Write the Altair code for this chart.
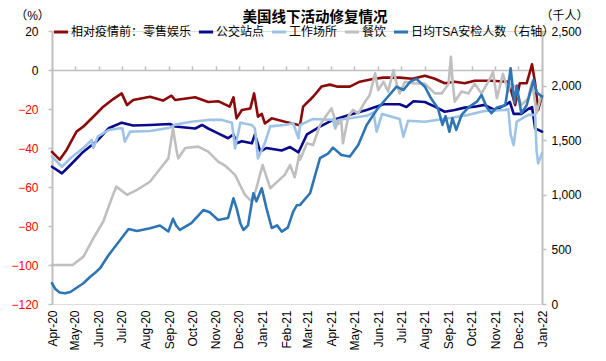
import altair as alt
import pandas as pd

FONT = "Liberation Sans, Arial, Noto Sans CJK SC"

names = ["相对疫情前：零售娱乐", "公交站点", "工作场所", "餐饮", "日均TSA安检人数（右轴）"]
colors = ["#8B0A0A", "#0A0A8C", "#9DC3E6", "#BFBFBF", "#2E75B6"]

dates_r = ["2020-04-01","2020-04-11","2020-04-20","2020-05-03","2020-05-12","2020-05-25","2020-06-07","2020-06-20","2020-07-01","2020-07-08","2020-07-16","2020-08-07","2020-08-24","2020-09-04","2020-09-09","2020-10-05","2020-10-22","2020-11-04","2020-11-19","2020-11-24","2020-11-28","2020-12-05","2020-12-16","2020-12-21","2020-12-26","2020-12-31","2021-01-04","2021-01-13","2021-01-30","2021-02-17","2021-02-19","2021-02-23","2021-03-08","2021-03-19","2021-03-30","2021-04-08","2021-04-25","2021-05-08","2021-05-25","2021-06-08","2021-06-29","2021-07-16","2021-08-01","2021-08-14","2021-08-27","2021-09-09","2021-09-22","2021-10-05","2021-10-27","2021-11-18","2021-11-22","2021-11-27","2021-12-03","2021-12-12","2021-12-19","2021-12-23","2021-12-27","2022-01-01"]
vals_r = [-42,-46,-41,-31.6,-29,-24,-18.8,-14.9,-12,-18,-15.4,-13.7,-15.7,-13.2,-15.4,-14,-16.4,-16,-18.8,-14,-24.8,-20.5,-19.7,-12,-23.9,-22.5,-27.4,-24.8,-26.5,-28.2,-28,-18.8,-13.7,-8.5,-7.5,-8.5,-8.5,-6,-4.6,-3.9,-3.9,-4.5,-2.9,-4.5,-6.8,-6,-6.8,-5.5,-5.5,-6,-11,-18,-6.8,-6.8,2.9,-6.8,-20.5,-13]

dates_n = ["2020-04-01","2020-04-14","2020-04-25","2020-05-12","2020-05-29","2020-06-14","2020-07-01","2020-07-16","2020-08-07","2020-09-02","2020-09-09","2020-10-05","2020-10-14","2020-10-22","2020-11-04","2020-11-17","2020-11-24","2020-11-28","2020-12-05","2020-12-18","2020-12-22","2020-12-29","2021-01-06","2021-01-26","2021-02-06","2021-02-17","2021-02-28","2021-03-17","2021-04-03","2021-04-25","2021-05-17","2021-06-08","2021-06-29","2021-07-08","2021-07-17","2021-08-01","2021-08-14","2021-08-27","2021-09-09","2021-09-22","2021-10-05","2021-10-18","2021-10-31","2021-11-14","2021-11-20","2021-11-25","2021-12-05","2021-12-14","2021-12-19","2021-12-23","2022-01-01"]
vals_n = [-49.6,-53,-48.7,-41.9,-36.7,-29.9,-27,-28.5,-28.2,-27.7,-29,-30,-28.2,-30,-32.5,-35,-33,-37.6,-36.5,-37.6,-33,-41.9,-40,-41.3,-39.5,-42.2,-33,-29,-25.6,-23,-20.5,-17.6,-17.6,-19,-16,-16.4,-18.8,-21.4,-20.5,-19.3,-18.8,-17.9,-20.5,-18,-16.4,-22.5,-22.5,-20,-19,-29.9,-31.6]

dates_w = ["2020-04-01","2020-04-14","2020-04-25","2020-05-12","2020-05-23","2020-05-25","2020-05-31","2020-06-14","2020-06-29","2020-07-02","2020-07-05","2020-07-12","2020-08-07","2020-09-02","2020-09-09","2020-09-30","2020-10-22","2020-11-09","2020-11-22","2020-11-26","2020-12-03","2020-12-18","2020-12-22","2020-12-26","2021-01-04","2021-01-11","2021-01-30","2021-02-10","2021-02-17","2021-02-19","2021-03-08","2021-04-03","2021-04-06","2021-04-10","2021-05-17","2021-05-26","2021-05-30","2021-06-06","2021-06-29","2021-07-04","2021-07-10","2021-08-01","2021-09-05","2021-09-27","2021-10-18","2021-11-14","2021-11-18","2021-11-21","2021-11-25","2021-11-29","2021-12-14","2021-12-23","2021-12-25","2021-12-27","2022-01-01"]
vals_w = [-44.4,-49.6,-45.3,-40,-35.9,-40,-34,-30.8,-29.9,-30,-36.8,-31.6,-31.3,-29.6,-28,-26.5,-25.6,-25.6,-27,-40.2,-27,-28.2,-30,-45.3,-37.5,-28.9,-28.2,-27.3,-35,-28.2,-25.1,-25.6,-30,-25.6,-23.5,-21.8,-31.6,-22.6,-25.1,-34.2,-26,-26.5,-24.5,-23,-21,-20.5,-20,-33,-38.5,-26.5,-23,-23,-41.9,-47.9,-42.7]

dates_g = ["2020-04-01","2020-04-28","2020-05-12","2020-05-25","2020-06-07","2020-06-18","2020-06-24","2020-07-08","2020-07-21","2020-08-07","2020-08-24","2020-08-31","2020-09-06","2020-09-11","2020-09-13","2020-09-22","2020-10-09","2020-10-22","2020-11-04","2020-11-13","2020-11-26","2020-12-09","2020-12-18","2020-12-24","2021-01-01","2021-01-11","2021-01-30","2021-02-06","2021-02-12","2021-02-18","2021-02-19","2021-02-28","2021-03-08","2021-03-17","2021-03-26","2021-04-01","2021-04-08","2021-04-14","2021-04-16","2021-04-23","2021-04-29","2021-05-06","2021-05-15","2021-05-21","2021-05-28","2021-06-01","2021-06-08","2021-06-14","2021-06-21","2021-06-25","2021-06-29","2021-07-06","2021-07-17","2021-08-01","2021-08-14","2021-08-23","2021-09-01","2021-09-04","2021-09-06","2021-09-09","2021-09-18","2021-09-27","2021-10-05","2021-10-14","2021-10-23","2021-10-29","2021-11-03","2021-11-11","2021-11-18","2021-11-21","2021-11-27","2021-12-05","2021-12-14","2021-12-19","2021-12-25","2021-12-29","2022-01-01"]
vals_g = [-100,-100,-95.7,-86.3,-77.7,-65.8,-59.8,-64,-61.5,-57.3,-48.7,-45.3,-30,-42,-45.3,-40,-39.3,-41.9,-47,-49,-53.8,-64,-67.5,-60.6,-48.7,-60.6,-53.8,-48.7,-55,-43.6,-46,-37.6,-38.5,-28.2,-23,-19.7,-28.2,-26.5,-37.6,-23.9,-20.5,-22.2,-16.2,-12.8,-1.7,-10.3,-6,-11.1,0,-6.8,-12,-6,-6.8,-7,-12,-12,-7,6.8,-5,-16.2,-11,-12,-7,-12,-6,-0.9,-14.4,-2,-11,-7,-8.5,-18,-14.4,-6,-22,-16,-12]

dates_t = ["2020-04-01","2020-04-05","2020-04-11","2020-04-18","2020-04-25","2020-05-12","2020-05-21","2020-05-29","2020-06-03","2020-06-14","2020-06-29","2020-07-10","2020-07-21","2020-08-07","2020-08-20","2020-08-31","2020-09-06","2020-09-10","2020-09-15","2020-09-30","2020-10-16","2020-10-24","2020-11-04","2020-11-17","2020-11-24","2020-11-28","2020-12-03","2020-12-07","2020-12-13","2020-12-20","2020-12-24","2020-12-31","2021-01-06","2021-01-13","2021-01-20","2021-01-26","2021-02-03","2021-02-10","2021-02-15","2021-02-19","2021-03-04","2021-03-17","2021-03-28","2021-04-03","2021-04-14","2021-04-25","2021-05-06","2021-05-17","2021-05-30","2021-06-12","2021-06-25","2021-07-04","2021-07-13","2021-07-21","2021-08-01","2021-08-09","2021-08-18","2021-08-24","2021-08-28","2021-09-02","2021-09-06","2021-09-11","2021-09-18","2021-09-27","2021-10-08","2021-10-14","2021-10-21","2021-10-27","2021-11-03","2021-11-14","2021-11-18","2021-11-21","2021-11-26","2021-11-29","2021-12-05","2021-12-12","2021-12-21","2021-12-25","2022-01-01"]
vals_t = [190,140,105,98,110,190,250,296,330,449,586,687,668,693,719,664,780,720,678,740,861,840,769,788,968,880,740,678,720,1014,940,1060,880,696,720,663,700,846,905,907,1014,1335,1380,1432,1365,1350,1456,1640,1777,1884,1990,1960,2036,2062,1990,1884,1793,1640,1720,1578,1700,1594,1731,1800,1853,1914,1800,1747,1800,1820,2000,2159,1838,2000,1747,1820,2052,1940,1899]

left_ticks = [-120, -100, -80, -60, -40, -20, 0, 20]
right_ticks = [0, 500, 1000, 1500, 2000, 2500]

frames = []
for nm, d, v in zip(names, [dates_r, dates_n, dates_w, dates_g, dates_t],
                    [vals_r, vals_n, vals_w, vals_g, vals_t]):
    frames.append(pd.DataFrame({"date": d, "value": v, "series": nm}))
df = pd.concat(frames, ignore_index=True)

x_scale = alt.Scale(type="utc", domain=[alt.DateTime(year=2020, month=4, date=1, utc=True),
                                        alt.DateTime(year=2022, month=1, date=1, utc=True)])

x_bottom = alt.X("date:T", scale=x_scale, title=None,
                 axis=alt.Axis(orient="bottom", format="%b-%y", labelAngle=-90,
                               tickCount={"interval": "month", "step": 1},
                               domain=False, ticks=False, grid=False,
                               labelFontSize=12, labelFont=FONT, labelColor="black",
                               labelPadding=6, labelOverlap=False, labelBound=False,
                               labelFlush=False))
x_top = alt.X("date:T", scale=x_scale, title=None,
              axis=alt.Axis(orient="top", offset=-39, labels=False, grid=False,
                            tickCount={"interval": "month", "step": 1},
                            domain=True, domainColor="#BFBFBF", domainWidth=1.5,
                            ticks=True, tickColor="#BFBFBF", tickSize=4, tickWidth=1.5))

y_left = alt.Y("value:Q", scale=alt.Scale(domain=[-120, 20], nice=False, zero=False),
               axis=alt.Axis(orient="left", values=left_ticks, format=".0f", grid=False,
                             title="（%）", titleAngle=0, titleX=-20, titleY=-16,
                             titleAlign="center", titleBaseline="middle",
                             titleFontWeight="normal", titleFontSize=12, titleFont=FONT,
                             titleColor="black",
                             labelColor=alt.condition("datum.value < 0", alt.value("#FF0000"), alt.value("black")),
                             labelFontSize=12, labelFont=FONT, labelPadding=10,
                             domainColor="#BFBFBF", domainWidth=2,
                             tickColor="#BFBFBF", tickSize=4, tickWidth=1.5))
y_right = alt.Y("value:Q", scale=alt.Scale(domain=[0, 2500], nice=False),
                axis=alt.Axis(orient="right", values=right_ticks, format=",.0f", grid=False,
                              title="（千人）", titleAngle=0, titleX=22, titleY=-16,
                              titleAlign="center", titleBaseline="middle",
                              titleFontWeight="normal", titleFontSize=12, titleFont=FONT,
                              titleColor="black",
                              labelColor="black", labelFontSize=12, labelFont=FONT,
                              labelPadding=5,
                              domainColor="#BFBFBF", domainWidth=2,
                              tickColor="#BFBFBF", tickSize=4, tickWidth=1.5))

color_enc = alt.Color("series:N", scale=alt.Scale(domain=names, range=colors),
                      legend=alt.Legend(orient="none", legendX=0, legendY=-8,
                                        direction="horizontal", columns=5, title=None,
                                        symbolType="stroke", symbolStrokeWidth=3,
                                        symbolSize=200, labelFontSize=12, labelFont=FONT,
                                        labelColor="black", labelOffset=1,
                                        columnPadding=0, padding=0, labelLimit=300))

base = alt.Chart(df)

def line(name, x, y):
    return base.transform_filter(alt.datum.series == name).mark_line(
        strokeWidth=2.6, strokeJoin="round", strokeCap="round"
    ).encode(x=x, y=y, color=color_enc)

left = alt.layer(*[line(n, x_bottom, y_left) for n in names[:4]])
right = line(names[4], x_top, y_right)

chart = alt.layer(left, right).resolve_scale(y="independent").resolve_axis(x="independent").properties(
    width=490, height=273,
    title=alt.TitleParams("美国线下活动修复情况", fontSize=14.5, fontWeight="bold", font=FONT,
                          color="black", anchor="middle", frame="group", offset=-16, dx=18),
    autosize=alt.AutoSizeParams(type="none"),
    padding={"left": 44, "top": 23, "right": 56, "bottom": 57},
).configure_view(stroke=None).configure(background="white")

chart.save("out.html", embed_options={"renderer": "svg", "actions": False})
